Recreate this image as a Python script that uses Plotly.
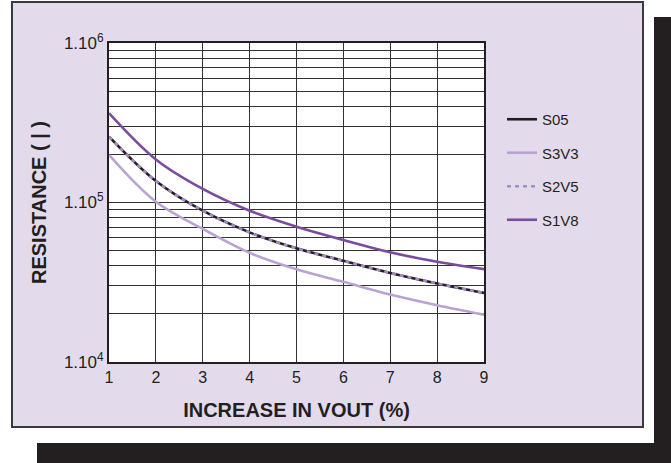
import plotly.graph_objects as go

x_vout = [1, 2, 3, 4, 5, 6, 7, 8, 9]
s05 = [259000, 136500, 88800, 65000, 51600, 43100, 36200, 31100, 27100]
s3v3 = [198800, 101000, 68300, 48400, 38100, 31800, 26500, 22700, 19800]
s2v5 = [259000, 136500, 88800, 65000, 51600, 43100, 36200, 31100, 27100]
s1v8 = [363000, 186000, 121600, 88800, 70500, 58200, 48700, 42500, 38200]

series_names = ["S05", "S3V3", "S2V5", "S1V8"]
y_major_vals = [10 ** 4, 10 ** 5, 10 ** 6]
y_major_text = ["1.10<sup>4</sup>", "1.10<sup>5</sup>", "1.10<sup>6</sup>"]
y_minor_vals = [m * 10 ** e for e in (4, 5) for m in range(2, 10)]

INK = "#231f20"
FONT = "Liberation Sans, Arial, Helvetica, sans-serif"

fig = go.Figure()
styles = [
    dict(color=INK, width=2.6, dash="solid"),
    dict(color="#b8a3d2", width=2.6, dash="solid"),
    dict(color="#a58cc6", width=2.6, dash="4px,4px"),
    dict(color="#7a4c9e", width=2.6, dash="solid"),
]
for name, vals, st in zip(series_names, [s05, s3v3, s2v5, s1v8], styles):
    fig.add_trace(go.Scatter(
        x=x_vout, y=vals, mode="lines", name=name, legendgroup=name,
        line=dict(color=st["color"], width=st["width"], dash=st["dash"],
                  shape="spline", smoothing=1.0),
    ))

# pixel geometry helpers (plot area 109..484 x, 43..362 y)
L, R, T, B = 109, 484, 43, 362
W, H = R - L, B - T
px = lambda p: (p - L) / W
py = lambda p: (B - p) / H

shapes = [
    # shadow bands
    dict(type="rect", xref="paper", yref="paper", x0=px(654), x1=px(671), y0=py(463), y1=py(17),
         fillcolor=INK, line=dict(width=0), layer="below"),
    dict(type="rect", xref="paper", yref="paper", x0=px(37), x1=px(671), y0=py(463), y1=py(443),
         fillcolor=INK, line=dict(width=0), layer="below"),
    # purple panel
    dict(type="rect", xref="paper", yref="paper", x0=px(12), x1=px(643), y0=py(427), y1=py(2),
         fillcolor="#e3dbec", line=dict(color="#3a3a3a", width=2), layer="below"),
    # white plot area
    dict(type="rect", xref="paper", yref="paper", x0=0, x1=1, y0=0, y1=1,
         fillcolor="white", line=dict(width=0), layer="below"),
]

fig.update_layout(
    width=671, height=463,
    margin=dict(l=L, r=671 - R, t=T, b=463 - B, autoexpand=False),
    paper_bgcolor="white", plot_bgcolor="white",
    font=dict(family=FONT, color=INK, size=16),
    shapes=shapes,
    showlegend=True,
    legend=dict(x=px(502), y=py(103), xanchor="left", yanchor="top",
                bgcolor="rgba(0,0,0,0)", font=dict(size=15, family=FONT, color=INK),
                tracegroupgap=11, traceorder="grouped", itemwidth=30),
    xaxis=dict(
        range=[1, 9], tickvals=x_vout, ticktext=[str(v) for v in x_vout],
        showgrid=True, gridcolor="#333333", gridwidth=1,
        showline=True, linecolor=INK, linewidth=2, mirror=True,
        ticks="", ticklen=0, tickfont=dict(size=16),
        title=dict(text="<b>INCREASE IN VOUT (%)</b>", font=dict(size=20), standoff=18),
        zeroline=False,
    ),
    yaxis=dict(
        type="log", range=[4, 6], tickvals=y_major_vals, ticktext=y_major_text,
        showgrid=True, gridcolor="#333333", gridwidth=1,
        minor=dict(tickvals=y_minor_vals, showgrid=True, gridcolor="#333333", gridwidth=1,
                   ticks=""),
        showline=True, linecolor=INK, linewidth=2, mirror=True,
        ticks="", ticklen=0, tickfont=dict(size=17),
        title=dict(text="<b>RESISTANCE ( | )</b>", font=dict(size=20), standoff=12),
        zeroline=False,
    ),
)

fig.write_html("out.html", config={"displayModeBar": False},
               post_script="document.body.style.margin='0';")
